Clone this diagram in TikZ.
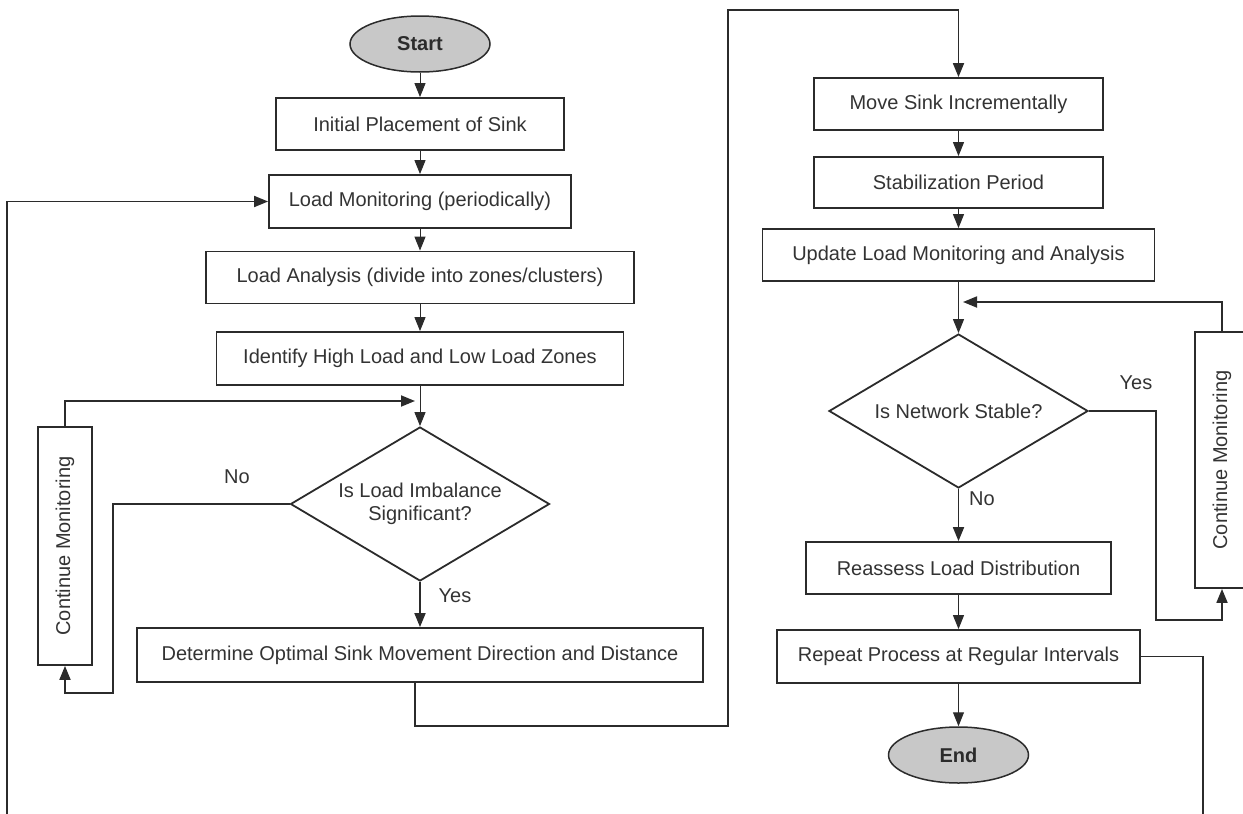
\documentclass[tikz,border=0pt]{standalone}
\usepackage{fontspec}
\setmainfont{Liberation Sans}
\usepackage{graphicx}
\usetikzlibrary{arrows.meta,shapes.geometric}
\definecolor{ink}{HTML}{2B2B2B}
\definecolor{txt}{HTML}{333333}
\definecolor{termgray}{HTML}{C8C8C8}
\newcommand{\flowfont}{\fontsize{20}{23.5}\selectfont}

\begin{document}
\begin{tikzpicture}[x=1pt, y=-1pt,
  proc/.style={draw=ink, line width=1.8pt, minimum height=52pt, inner sep=0pt, text=txt, font=\flowfont},
  term/.style={ellipse, draw=ink, fill=termgray, line width=1.5pt, minimum width=140pt, minimum height=56pt, inner sep=0pt, text=ink, font=\flowfont\bfseries},
  dec/.style={diamond, draw=ink, line width=1.8pt, minimum width=259pt, minimum height=154pt, shape aspect=1.7, inner sep=0pt, align=center, text=txt, font=\flowfont},
  lbl/.style={text=txt, font=\flowfont},
  arr/.style={-{Triangle[length=14pt,width=11pt]}, draw=ink, line width=1pt},
  back/.style={arr, line width=1.8pt}]
  \useasboundingbox (0,0) rectangle (1243,814);
  \clip (0,0) rectangle (1243,814);

  % left column
  \node[term] (start) at (420,44) {Start};
  \node[proc, minimum width=288pt] (init) at (420,124) {Initial Placement of Sink};
  \node[proc, minimum width=302pt, minimum height=53pt] (lm) at (420,201.5) {Load Monitoring (periodically)};
  \node[proc, minimum width=428pt] (la) at (420,277.5) {Load Analysis (divide into zones/clusters)};
  \node[proc, minimum width=407pt, minimum height=53pt] (zones) at (420,358.5) {Identify High Load and Low Load Zones};
  \node[dec] (imb) at (420,504) {Is Load Imbalance\\Significant?};
  \node[proc, minimum width=566pt, minimum height=54pt] (det) at (420,655) {Determine Optimal Sink Movement Direction and Distance};
  \node[proc, minimum width=54pt, minimum height=238pt] (contL) at (65,546) {\rotatebox{90}{Continue Monitoring}};

  % right column
  \node[proc, minimum width=289pt] (move) at (958.5,104) {Move Sink Incrementally};
  \node[proc, minimum width=289pt, minimum height=51pt] (stab) at (958.5,182.5) {Stabilization Period};
  \node[proc, minimum width=392pt] (upd) at (958.5,255) {Update Load Monitoring and Analysis};
  \node[dec] (stable) at (958.5,411) {Is Network Stable?};
  \node[proc, minimum width=54pt, minimum height=256pt] (contR) at (1222,460) {\rotatebox{90}{Continue Monitoring}};
  \node[proc, minimum width=305pt] (reas) at (958.5,568) {Reassess Load Distribution};
  \node[proc, minimum width=363pt, minimum height=53pt] (rep) at (958.5,656.5) {Repeat Process at Regular Intervals};
  \node[term] (end) at (958.5,755) {End};

  % branch labels
  \node[lbl] (noL) at (237,477) {No};
  \node[lbl] (yesL) at (455,596) {Yes};
  \node[lbl] (yesR) at (1136,383) {Yes};
  \node[lbl] (noR) at (982,499) {No};

  % helper points
  \coordinate (jL) at (415,401);
  \coordinate (jR) at (963,302);
  \coordinate (c1) at (728,726);
  \coordinate (c2) at (728,10);
  \coordinate (bR) at (1203,830);
  \coordinate (bL) at (7,830);

  \draw[arr] (start) -- (init);
  \draw[arr] (init) -- (lm);
  \draw[arr] (lm) -- (la);
  \draw[arr] (la) -- (zones);
  \draw[arr] (zones) -- (imb);
  \draw[back] (contL.north) |- (jL);
  \draw[back] (imb.west) -| ++(-177,189) -| (contL.south);
  \draw[back] (imb) -- (det);
  \draw[back] ([xshift=-5pt]det.south) |- (c1) -- (c2) -| (move.north);

  \draw[arr] (move) -- (stab);
  \draw[arr] (stab) -- (upd);
  \draw[arr] (upd) -- (stable);
  \draw[back] (contR.north) |- (jR);
  \draw[back] (stable.east) -| ++(67,209) -| (contR.south);
  \draw[back] (stable) -- (reas);
  \draw[arr] (reas) -- (rep);
  \draw[arr] (rep) -- (end);
  \draw[back] (rep.east) -| (bR) -- (bL) |- (lm.west);
\end{tikzpicture}
\end{document}
